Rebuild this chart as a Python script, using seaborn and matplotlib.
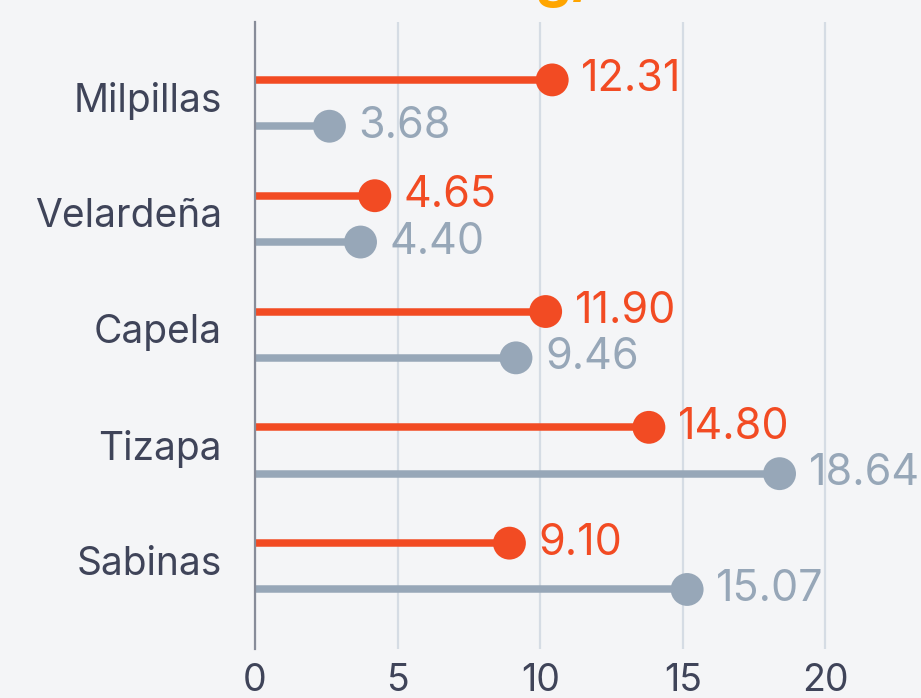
import matplotlib
matplotlib.use("Agg")
import matplotlib.pyplot as plt
import matplotlib.transforms as mtransforms
import seaborn as sns
import pandas as pd
import numpy as np

# ---- data ----
mines = ["Milpillas", "Velardeña", "Capela", "Tizapa", "Sabinas"]
series_a_values = [10.42, 4.20, 10.19, 13.81, 8.92]   # orange marks
series_b_values = [2.61, 3.70, 9.15, 18.39, 15.15]    # gray marks
series_a_labels = ["12.31", "4.65", "11.90", "14.80", "9.10"]
series_b_labels = ["3.68", "4.40", "9.46", "18.64", "15.07"]
x_ticks = [0, 5, 10, 15, 20]
title_text = "Contenido en g/t de oro"

# ---- style ----
BG = "#F4F5F7"
ORANGE = "#F24B23"
GRAY = "#97A7B8"
TEXT = "#3F4459"
GRID = "#D5DCE4"
SPINE = "#878C99"

sns.set_theme(style="white")
plt.rcParams["font.family"] = ["Inter", "DejaVu Sans"]

fig = plt.figure(figsize=(9.21, 6.98), dpi=100, facecolor=BG)
ax = fig.add_axes([255 / 921, 1 - 649 / 698, (854 - 255) / 921, (649 - 22) / 698])
ax.set_facecolor(BG)

off = 0.2
idx = np.arange(len(mines))
df = pd.DataFrame({
    "mine": mines * 2,
    "value": series_a_values + series_b_values,
    "y": list(idx - off) + list(idx + off),
    "series": ["A"] * len(mines) + ["B"] * len(mines),
    "label": series_a_labels + series_b_labels,
})
palette = {"A": ORANGE, "B": GRAY}

for _, r in df.iterrows():
    ax.hlines(r["y"], 0, r["value"], color=palette[r["series"]], lw=5.4, zorder=2)

sns.scatterplot(data=df, x="value", y="y", hue="series", palette=palette,
                s=560, edgecolor="none", legend=False, ax=ax, zorder=3)

for _, r in df.iterrows():
    ax.annotate(r["label"], (r["value"], r["y"]), xytext=(21, 0),
                textcoords="offset points", va="center", ha="left",
                fontsize=31, color=palette[r["series"]], annotation_clip=False,
                clip_on=False)

ax.set_xlim(0, 21)
ax.set_ylim(4.714, -0.70)
ax.set_xticks(x_ticks)
ax.set_xticklabels([str(t) for t in x_ticks], fontsize=27, color=TEXT)
ax.set_yticks(idx)
ax.set_yticklabels(mines, fontsize=28, color=TEXT)
ax.tick_params(axis="both", length=0)
ax.tick_params(axis="y", pad=24)
ax.tick_params(axis="x", pad=10)
shift = mtransforms.ScaledTranslation(0, 6 / 100, fig.dpi_scale_trans)
for lab in ax.get_yticklabels():
    lab.set_transform(lab.get_transform() + shift)

ax.grid(axis="x", color=GRID, lw=1.6, zorder=0)
ax.grid(axis="y", visible=False)
ax.set_axisbelow(True)
for s in ["top", "right", "bottom"]:
    ax.spines[s].set_visible(False)
ax.spines["left"].set_color(SPINE)
ax.spines["left"].set_linewidth(1.6)
ax.set_xlabel("")
ax.set_ylabel("")

fig.text(0.517, 1 + 4 / 698, title_text, ha="center", va="baseline",
         fontsize=42, color="#FFA500", fontweight="bold")

fig.savefig("out.png", dpi=100, facecolor=BG)
